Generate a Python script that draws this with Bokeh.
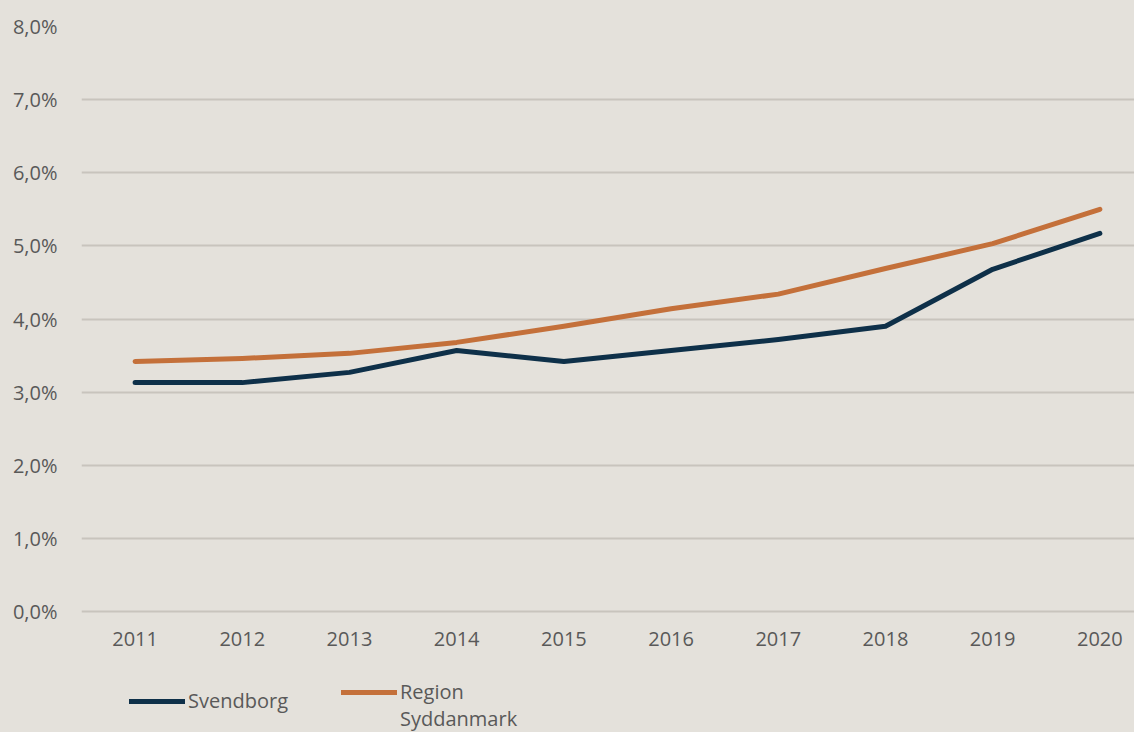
from bokeh.plotting import figure
from bokeh.models import Range1d, FixedTicker, Legend, LegendItem
from bokeh.embed import file_html
from bokeh.resources import INLINE

years = [2011, 2012, 2013, 2014, 2015, 2016, 2017, 2018, 2019, 2020]
year_labels = ["2011", "2012", "2013", "2014", "2015", "2016", "2017", "2018", "2019", "2020"]
svendborg = [3.13, 3.13, 3.27, 3.57, 3.42, 3.57, 3.72, 3.90, 4.68, 5.17]
syddanmark = [3.42, 3.46, 3.53, 3.68, 3.90, 4.14, 4.34, 4.69, 5.03, 5.50]
y_ticks = [0, 1, 2, 3, 4, 5, 6, 7, 8]
y_labels = ["0,0%", "1,0%", "2,0%", "3,0%", "4,0%", "5,0%", "6,0%", "7,0%", "8,0%"]
series_names = ["Svendborg", "Region", "Syddanmark"]

BG = "#E4E1DB"
TXT = "#595959"
FONT = "Open Sans"

p = figure(width=1134, height=732, output_backend="svg", toolbar_location=None,
           x_range=Range1d(2010.5, 2020.323), y_range=Range1d(-1.6547, 8),
           min_border_left=81, min_border_right=0, min_border_top=26, min_border_bottom=0)
p.styles = {"background-color": BG}
p.background_fill_color = BG
p.border_fill_color = BG
p.outline_line_color = None

p.xgrid.grid_line_color = None
p.ygrid.grid_line_color = "#C8C4BD"
p.ygrid.grid_line_width = 2
p.ygrid.ticker = FixedTicker(ticks=y_ticks)

p.xaxis.fixed_location = 0
p.xaxis.ticker = FixedTicker(ticks=years)
p.xaxis.major_label_overrides = {y: l for y, l in zip(years, year_labels)}
p.yaxis.ticker = FixedTicker(ticks=y_ticks)
p.yaxis.major_label_overrides = {t: l for t, l in zip(y_ticks, y_labels)}
for ax in (p.xaxis, p.yaxis):
    ax.axis_line_color = None
    ax.major_tick_line_color = None
    ax.minor_tick_line_color = None
    ax.major_tick_in = 0
    ax.major_tick_out = 0
    ax.major_label_text_color = TXT
    ax.major_label_text_font = FONT
    ax.major_label_text_font_size = "20px"
p.yaxis.major_label_standoff = 24
p.xaxis.major_label_standoff = 20

r1 = p.line(years, svendborg, line_color="#0E3049", line_width=5, line_cap="round", line_join="round")
r2 = p.line(years, syddanmark, line_color="#C4703A", line_width=5, line_cap="round", line_join="round")

common = dict(padding=0, margin=0, glyph_width=56, label_standoff=3,
              label_text_font=FONT, label_text_font_size="20px", label_text_color=TXT,
              background_fill_alpha=0, border_line_alpha=0)

legend_a = Legend(items=[LegendItem(label=series_names[0], renderers=[r1])],
                  location=(48, 18), **common)
legend_b = Legend(items=[LegendItem(label=series_names[1], renderers=[r2]),
                         LegendItem(label=series_names[2], renderers=[])],
                  orientation="vertical", spacing=-3, location=(260, 0), **common)
p.add_layout(legend_a, "center")
p.add_layout(legend_b, "center")

open("out.html", "w").write(file_html(p, INLINE))
